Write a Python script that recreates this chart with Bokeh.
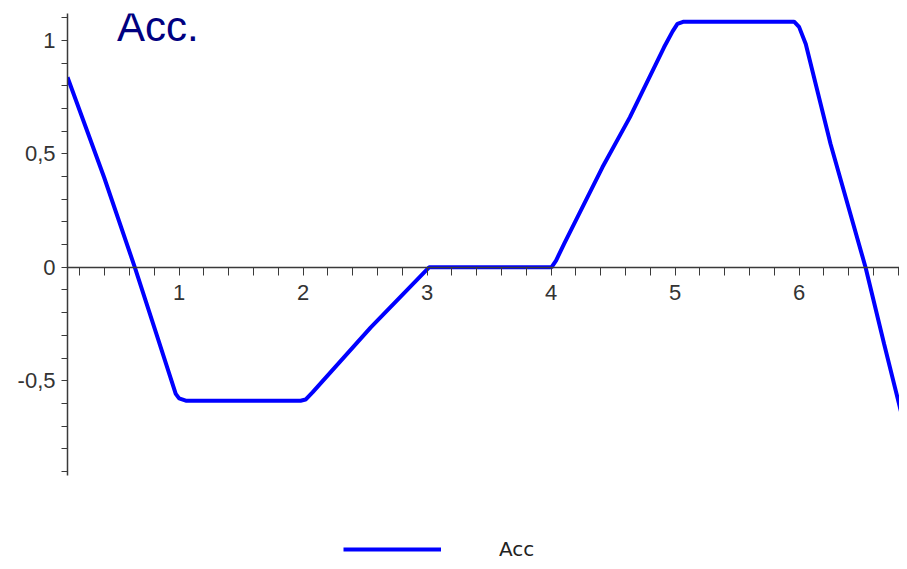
from bokeh.plotting import figure
from bokeh.models import (LinearAxis, FixedTicker, Range1d, Label, Legend, LegendItem,
                          ColumnDataSource)
from bokeh.embed import file_html
from bokeh.resources import INLINE

# ---- data ----
t = [0.1, 0.395, 0.643, 0.826, 0.973, 1.0, 1.054, 1.98, 2.02, 2.076, 2.546, 3.016,
     4.003, 4.04, 4.105, 4.414, 4.635, 4.911, 4.98, 5.019, 5.07, 5.96, 6.0, 6.054,
     6.254, 6.536, 6.686, 6.86, 6.95]
acc = [0.838, 0.397, 0.0, -0.309, -0.558, -0.578, -0.588, -0.588, -0.583, -0.551, -0.265, 0.0,
       0.0, 0.03, 0.103, 0.441, 0.661, 0.970, 1.04, 1.073, 1.083, 1.083, 1.06, 0.985,
       0.544, 0.0, -0.338, -0.72, -0.91]

x_major = [1, 2, 3, 4, 5, 6]
x_minor = [0.2, 0.4, 0.6, 0.8, 1.2, 1.4, 1.6, 1.8, 2.2, 2.4, 2.6, 2.8, 3.2, 3.4, 3.6, 3.8,
           4.2, 4.4, 4.6, 4.8, 5.2, 5.4, 5.6, 5.8, 6.2, 6.4, 6.6, 6.8]
y_major = [-0.5, 0, 0.5, 1]
y_labels = ["-0,5", "0", "0,5", "1"]
y_minor = [-0.9, -0.8, -0.7, -0.6, -0.4, -0.3, -0.2, -0.1, 0.1, 0.2, 0.3, 0.4,
           0.6, 0.7, 0.8, 0.9, 1.1]
y_axis_span = (-0.918, 1.119)

title_text = "Acc."
series_name = "Acc"

# ---- figure ----
p = figure(frame_width=832, frame_height=548, output_backend="svg", toolbar_location=None,
           x_axis_location=None, y_axis_location=None,
           x_range=Range1d(0.1, 6.81), y_range=Range1d(-1.297, 1.119),
           min_border_left=67, min_border_right=0, min_border_top=13, min_border_bottom=0)
p.outline_line_color = None
p.xgrid.visible = False
p.ygrid.visible = False
p.background_fill_color = "white"
p.border_fill_color = "white"

axis_color = "#3a3a3a"
label_color = "#333333"

xaxis = LinearAxis(fixed_location=0,
                   ticker=FixedTicker(ticks=x_major, minor_ticks=x_minor))
xaxis.axis_line_color = axis_color
xaxis.axis_line_width = 1.5
xaxis.major_tick_line_color = axis_color
xaxis.minor_tick_line_color = axis_color
xaxis.major_tick_in = 0
xaxis.major_tick_out = 8
xaxis.minor_tick_in = 0
xaxis.minor_tick_out = 8
xaxis.major_label_standoff = 10
xaxis.major_label_text_font = "Liberation Sans"
xaxis.major_label_text_font_size = "22px"
xaxis.major_label_text_color = label_color
p.add_layout(xaxis, "below")

yaxis = LinearAxis(ticker=FixedTicker(ticks=y_major, minor_ticks=y_minor),
                   bounds=y_axis_span)
yaxis.major_label_overrides = {v: s for v, s in zip(y_major, y_labels)}
yaxis.axis_line_color = axis_color
yaxis.axis_line_width = 1.5
yaxis.major_tick_line_color = axis_color
yaxis.minor_tick_line_color = axis_color
yaxis.major_tick_in = 0
yaxis.major_tick_out = 6
yaxis.minor_tick_in = 0
yaxis.minor_tick_out = 6
yaxis.major_label_standoff = 6
yaxis.major_label_text_font = "Liberation Sans"
yaxis.major_label_text_font_size = "22px"
yaxis.major_label_text_color = label_color
p.add_layout(yaxis, "left")

src = ColumnDataSource(data=dict(t=t, acc=acc))
r = p.line("t", "acc", source=src, line_color="#0000FF", line_width=4)

p.add_layout(Label(x=0.50, y=1.06, text=title_text, text_font="Liberation Sans",
                   text_font_size="42px", text_color="#000080",
                   text_baseline="alphabetic", text_align="left"))

legend = Legend(items=[LegendItem(label=series_name, renderers=[r])],
                location=(276, 0), orientation="horizontal",
                glyph_width=98, glyph_height=16, label_standoff=58,
                label_text_font="DejaVu Sans", label_text_font_size="20px",
                label_text_color="#222222",
                border_line_color=None, background_fill_alpha=0,
                padding=0, margin=0, spacing=0)
p.add_layout(legend, "center")

open("out.html", "w").write(file_html(p, INLINE))
